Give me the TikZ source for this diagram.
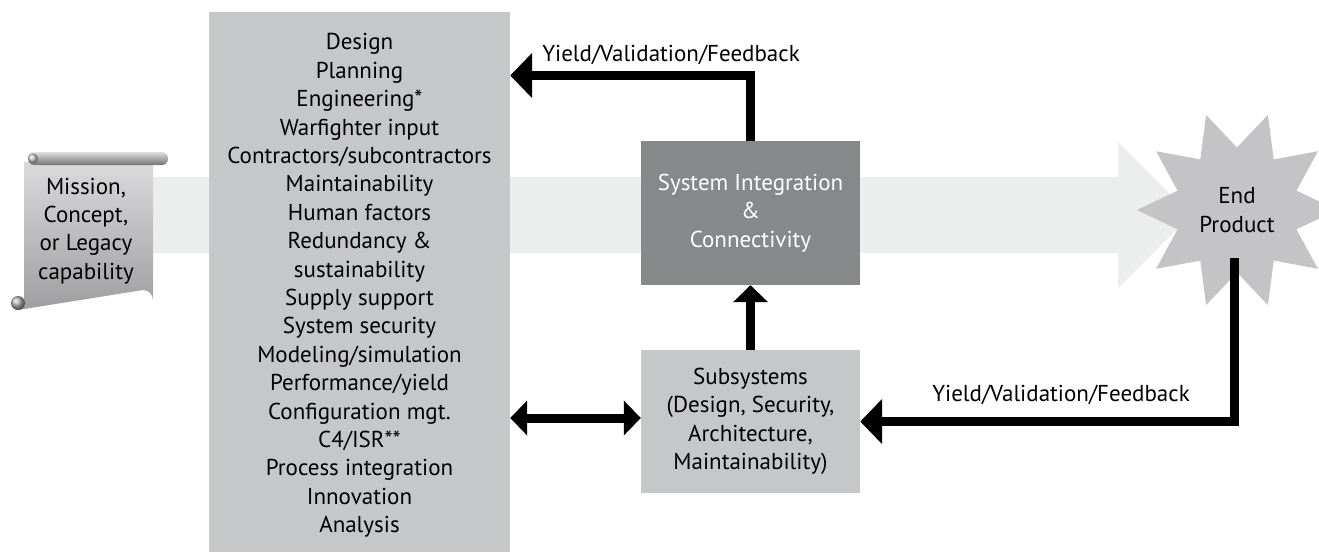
\documentclass[tikz,border=0pt]{standalone}
\usepackage{fontspec}
\setmainfont{PT Sans}
\usetikzlibrary{arrows.meta,shapes.geometric,calc}
\definecolor{boxgray}{HTML}{C6C7C9}
\definecolor{darkbox}{HTML}{87888A}
\definecolor{bandgray}{HTML}{ECEDED}
\definecolor{stargray}{HTML}{C4C4C6}
\definecolor{scrolltop}{HTML}{DADADC}
\definecolor{scrollbot}{HTML}{9E9EA0}
\tikzset{
  fbarrow/.style={line width=9pt, -{Triangle[width=44pt,length=22pt]}},
  smallarrow/.style={line width=9pt, -{Triangle[width=34pt,length=17pt]}},
  dblarrow/.style={line width=9pt, {Triangle[width=34pt,length=17pt]}-{Triangle[width=34pt,length=17pt]}},
  graybox/.style={fill=boxgray, inner sep=0pt, align=center},
  lbl/.style={inner sep=0pt, align=center}
}
\begin{document}
\begin{tikzpicture}[x=1pt,y=-1pt, font=\fontsize{23}{28.4}\selectfont]
\useasboundingbox (0,0) rectangle (1319,552);
% wide background arrow
\fill[bandgray] (150,177) -- (1118,177) -- (1118,142) -- (1191,215) -- (1118,288) -- (1118,253) -- (150,253) -- cycle;
% scroll
\shade[top color=scrolltop, bottom color=scrollbot]
  (24,162) -- (153,162) -- (153,300) arc[start angle=0, end angle=90, radius=10pt] -- (18,310) -- (24,300) -- cycle;
\shade[ball color=gray!60] (18,303) circle[radius=7pt];
\shade[top color=gray!25, bottom color=gray!90!black, rounded corners=6pt] (28,152) rectangle (168,165);
\shade[ball color=gray!40] (33,158.5) circle[radius=5pt];
\node[lbl] (mission) at (86,231) {Mission,\\Concept,\\or Legacy\\capability};
% left box
\node[graybox, minimum width=301pt, minimum height=540pt] (lbox) at (359.5,282) {};
\node[lbl] (ltext) at (359.5,285.5) {Design\\Planning\\Engineering*\\Warfighter input\\Contractors/subcontractors\\Maintainability\\Human factors\\Redundancy \&\\sustainability\\Supply support\\System security\\Modeling/simulation\\Performance/yield\\Configuration mgt.\\C4/ISR**\\Process integration\\Innovation\\Analysis};
% system integration
\node[fill=darkbox, text=white, inner sep=0pt, align=center, minimum width=219pt, minimum height=144pt] (sys) at (750.5,213) {System Integration\\\&\\Connectivity};
% subsystems
\node[graybox, minimum width=219pt, minimum height=143pt] (sub) at (750.5,421.5) {Subsystems\\(Design, Security,\\Architecture,\\Maintainability)};
% end product star
\node[star, star points=10, star point ratio=1.6, minimum size=200pt, inner sep=0pt, fill=stargray, shape border rotate=18, align=center] (end) at (1237,210) {End\\Product};
% connectors
\coordinate (fbtop) at (748.5,75.5);
\coordinate (dbl) at (0,418);
\coordinate (fbstart) at (1234,258);
\draw[fbarrow] (sys.north) |- (lbox.east |- fbtop);
\draw[smallarrow] (sub.north) -- (sys.south);
\draw[dblarrow] (lbox.east |- dbl) -- (sub.west |- dbl);
\draw[fbarrow] (fbstart) |- (sub.east);
% labels
\node[lbl] (lab1) at (671,55) {Yield/Validation/Feedback};
\node[lbl] (lab2) at (1061,395) {Yield/Validation/Feedback};
\end{tikzpicture}
\end{document}
